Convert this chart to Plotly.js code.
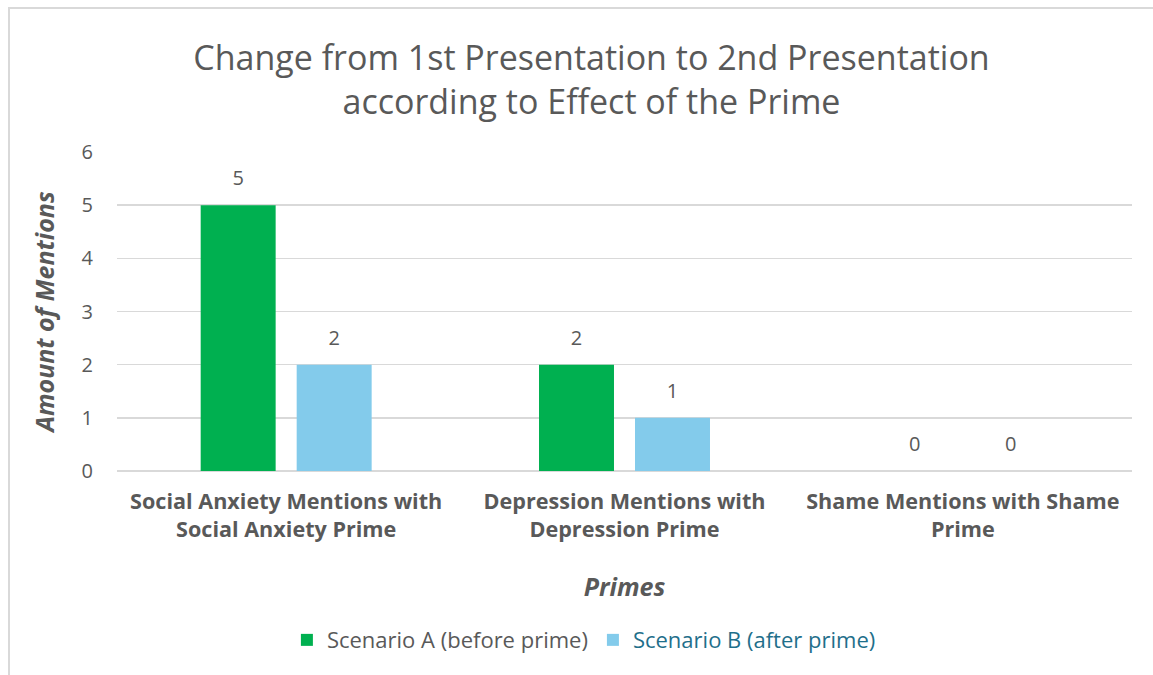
<!DOCTYPE html>
<html>
<head>
<meta charset="utf-8">
<script src="https://cdn.plot.ly/plotly-3.0.1.min.js"></script>
<style>
html,body{margin:0;padding:0;background:#fff;}
#wrap{position:relative;width:1153px;height:675px;}
#chart{position:absolute;left:0;top:0;width:1153px;height:675px;}
#frame{position:absolute;left:8px;top:7px;width:1145px;height:668px;border-left:2px solid #d9d9d9;border-top:2px solid #d9d9d9;pointer-events:none;}
</style>
</head>
<body>
<div id="wrap"><div id="chart"></div><div id="frame"></div></div>
<script>
const categories = [
  "Social Anxiety Mentions with<br>Social Anxiety Prime",
  "Depression Mentions with<br>Depression Prime",
  "Shame Mentions with Shame<br>Prime"
];
const scenarioA = [5, 2, 0];
const scenarioB = [2, 1, 0];
const seriesNames = ["Scenario A (before prime)", "Scenario B (after prime)"];
const yTicks = [0, 1, 2, 3, 4, 5, 6];

const FONT = "Open Sans, sans-serif";
const GRAY = "#595959";
const colors = ["#00B050", "#83CBEB"];
const series = [scenarioA, scenarioB];

const traces = [];
series.forEach((vals, i) => {
  traces.push({
    type: "bar", x: categories, y: vals,
    name: i === 1 ? '<span style="color:#1F6F8B">' + seriesNames[i] + '</span>' : seriesNames[i],
    marker: {color: colors[i]}, offsetgroup: "g" + i
  });
});
series.forEach((vals, i) => {
  traces.push({
    type: "scatter", mode: "markers+text", x: categories, y: vals,
    offsetgroup: "g" + i, showlegend: false, hoverinfo: "skip",
    marker: {size: 22, opacity: 0, color: colors[i]},
    text: vals.map(String), textposition: "top center", cliponaxis: false,
    textfont: {family: FONT, size: 20, color: GRAY}
  });
});

const layout = {
  width: 1153, height: 675,
  margin: {l: 117, r: 21, t: 152, b: 204},
  paper_bgcolor: "rgba(0,0,0,0)", plot_bgcolor: "#fff",
  font: {family: FONT, color: GRAY, size: 18},
  title: {
    text: "Change from 1st Presentation to 2nd Presentation<br>according to Effect of the Prime",
    font: {family: FONT, size: 34, color: GRAY},
    x: 0.513, xanchor: "center", y: 0.897, yanchor: "middle"
  },
  barmode: "group", bargap: 0.4325, bargroupgap: 0.219,
  scattermode: "group", scattergap: 0.4325,
  xaxis: {
    type: "category",
    tickfont: {family: FONT, size: 21.6, color: GRAY, weight: "bold"},
    ticks: "", showline: false, showgrid: false, ticklabelstandoff: 15,
    title: {text: "<b><i>Primes</i></b>", font: {family: FONT, size: 25, color: GRAY}, standoff: 36}
  },
  yaxis: {
    range: [0, 6], tickvals: yTicks, ticktext: yTicks.map(String),
    tickfont: {family: FONT, size: 20, color: GRAY},
    showgrid: true, gridcolor: "#d9d9d9", gridwidth: 1.5,
    zeroline: true, zerolinecolor: "#d9d9d9", zerolinewidth: 1.5,
    showline: false, ticks: "", ticklabelstandoff: 23,
    title: {text: "<b><i>Amount of Mentions</i></b>", font: {family: FONT, size: 25, color: GRAY}, standoff: 19}
  },
  showlegend: true,
  legend: {
    orientation: "h", x: 0.46, xanchor: "center", y: -0.53, yanchor: "middle",
    font: {family: FONT, size: 22, color: GRAY}, traceorder: "normal",
    itemwidth: 30
  }
};

Plotly.newPlot("chart", traces, layout, {displayModeBar: false, staticPlot: true});
</script>
</body>
</html>
